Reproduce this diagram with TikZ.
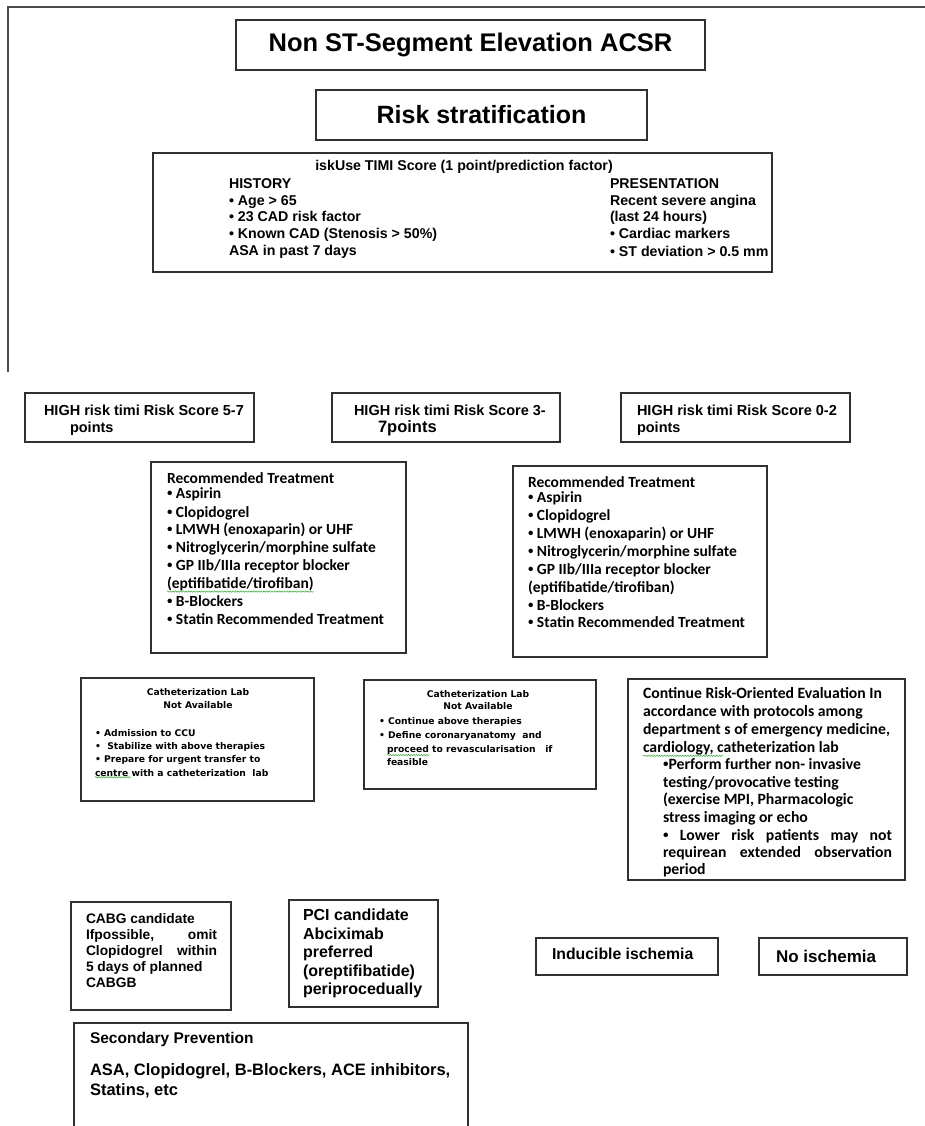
\documentclass[tikz,border=0pt]{standalone}
\usepackage{fontspec}
\setmainfont{Liberation Sans}
\newfontfamily\calfont{Carlito}
\newfontfamily\djfont{DejaVu Sans}
\newfontfamily\bulfont{Liberation Sans}
\newcommand\mybul{{\bulfont\bfseries •}}
\usetikzlibrary{decorations.pathmorphing}
\definecolor{boxc}{HTML}{303030}
\definecolor{framec}{HTML}{4A4A4A}
\definecolor{squigc}{HTML}{3DA83D}
\begin{document}
\begin{tikzpicture}[x=1pt,y=-1pt,
  box/.style={draw=boxc, line width=1.2pt, anchor=north west, inner sep=0pt, outer sep=0pt},
  ln/.style={anchor=mid west, inner sep=0pt, outer sep=0pt, text=black, yshift=-2.5pt},
  lc/.style={anchor=mid, inner sep=0pt, outer sep=0pt, text=black, yshift=-2pt},
  frame/.style={draw=framec, line width=2.2pt},
  squig/.style={draw=squigc, line width=0.5pt, decorate, decoration={snake, amplitude=0.7pt, segment length=2.6pt}},
  fhead/.style={font=\bfseries\fontsize{25.5}{29}\selectfont},
  fhead2/.style={font=\bfseries\fontsize{25}{29}\selectfont},
  ftimi/.style={font=\bfseries\fontsize{14.2}{17}\selectfont},
  fhigh/.style={font=\bfseries\fontsize{14.5}{17}\selectfont},
  fhighb/.style={font=\bfseries\fontsize{16.5}{19}\selectfont},
  ftreat/.style={font=\calfont\bfseries\fontsize{15.5}{18}\selectfont},
  fcath/.style={font=\djfont\bfseries\fontsize{9.2}{11}\selectfont},
  fcont/.style={font=\calfont\bfseries\fontsize{15.7}{18}\selectfont},
  fcabg/.style={font=\bfseries\fontsize{13.8}{16}\selectfont},
  fpci/.style={font=\bfseries\fontsize{16}{19}\selectfont},
  fisch/.style={font=\bfseries\fontsize{15.8}{19}\selectfont},
  fnoisch/.style={font=\bfseries\fontsize{17}{20}\selectfont},
  fsecA/.style={font=\bfseries\fontsize{15.5}{18}\selectfont},
  fsecB/.style={font=\bfseries\fontsize{16.5}{19}\selectfont}]
\useasboundingbox (0,0) rectangle (925,1126);
\clip (0,0) rectangle (925,1126);
\fill[white] (0,0) rectangle (925,1126);

% frame lines
\coordinate (fr-a) at (8,372);
\coordinate (fr-b) at (8,7);
\coordinate (fr-c) at (927,7);
\draw[frame] (fr-a) -- (fr-b) -- (fr-c);

% title boxes
\node[box, fhead, minimum width=469pt, minimum height=50pt] (title) at (236,20) {Non ST-Segment Elevation ACSR};
\node[box, fhead2, minimum width=331pt, minimum height=50pt] (risk) at (316,90) {Risk stratification};

% TIMI box
\node[box, minimum width=619pt, minimum height=119pt] (timi) at (153,153) {};
\node[lc, ftimi] (timi-t) at (464,166) {iskUse TIMI Score (1 point/prediction factor)};
\node[ln, ftimi] (timi-l1) at (229,183) {HISTORY};
\node[ln, ftimi] (timi-l2) at (229,200) {• Age > 65};
\node[ln, ftimi] (timi-l3) at (229,216) {• 23 CAD risk factor};
\node[ln, ftimi] (timi-l4) at (229,233) {• Known CAD (Stenosis > 50\%)};
\node[ln, ftimi] (timi-l5) at (229,250) {ASA in past 7 days};
\node[ln, ftimi] (timi-r1) at (610,183) {PRESENTATION};
\node[ln, ftimi] (timi-r2) at (610,200) {Recent severe angina};
\node[ln, ftimi] (timi-r3) at (610,216) {(last 24 hours)};
\node[ln, ftimi] (timi-r4) at (610,233) {• Cardiac markers};
\node[ln, ftimi] (timi-r5) at (610,251) {• ST deviation > 0.5 mm};

% HIGH risk boxes
\node[box, minimum width=229pt, minimum height=49pt] (hA) at (25,393) {};
\node[ln, fhigh] (hA-1) at (44,410) {HIGH risk timi Risk Score 5-7};
\node[ln, fhigh] (hA-2) at (70,427) {points};
\node[box, minimum width=228pt, minimum height=49pt] (hB) at (332,393) {};
\node[ln, fhigh] (hB-1) at (354,410) {HIGH risk timi Risk Score 3-};
\node[ln, fhighb] (hB-2) at (378,427) {7points};
\node[box, minimum width=229pt, minimum height=49pt] (hC) at (621,393) {};
\node[ln, fhigh] (hC-1) at (637,410) {HIGH risk timi Risk Score 0-2};
\node[ln, fhigh] (hC-2) at (637,427) {points};

% Treatment boxes
\node[box, minimum width=255pt, minimum height=191pt] (t1) at (151,462) {};
\node[ln, ftreat] (t1-1) at (167,478) {Recommended Treatment};
\node[ln, ftreat] (t1-2) at (167,493) {\mybul\ Aspirin};
\node[ln, ftreat] (t1-3) at (167,512) {\mybul\ Clopidogrel};
\node[ln, ftreat] (t1-4) at (167,529) {\mybul\ LMWH (enoxaparin) or UHF};
\node[ln, ftreat] (t1-5) at (167,547) {\mybul\ Nitroglycerin/morphine sulfate};
\node[ln, ftreat] (t1-6) at (167,565) {\mybul\ GP IIb/IIIa receptor blocker};
\node[ln, ftreat] (t1-7) at (167,583) {(eptifibatide/tirofiban)};
\node[ln, ftreat] (t1-8) at (167,601) {\mybul\ B-Blockers};
\node[ln, ftreat] (t1-9) at (167,619) {\mybul\ Statin Recommended Treatment};
\draw[squig] ([yshift=-1pt]t1-7.south west) -- ([yshift=-1pt]t1-7.south east);

\node[box, minimum width=254pt, minimum height=191pt] (t2) at (513,466) {};
\node[ln, ftreat] (t2-1) at (528,482) {Recommended Treatment};
\node[ln, ftreat] (t2-2) at (528,497) {\mybul\ Aspirin};
\node[ln, ftreat] (t2-3) at (528,515) {\mybul\ Clopidogrel};
\node[ln, ftreat] (t2-4) at (528,533) {\mybul\ LMWH (enoxaparin) or UHF};
\node[ln, ftreat] (t2-5) at (528,551) {\mybul\ Nitroglycerin/morphine sulfate};
\node[ln, ftreat] (t2-6) at (528,569) {\mybul\ GP IIb/IIIa receptor blocker};
\node[ln, ftreat] (t2-7) at (528,587) {(eptifibatide/tirofiban)};
\node[ln, ftreat] (t2-8) at (528,605) {\mybul\ B-Blockers};
\node[ln, ftreat] (t2-9) at (528,622) {\mybul\ Statin Recommended Treatment};

% Catheterization lab boxes
\node[box, minimum width=233pt, minimum height=123pt] (c1) at (81,678) {};
\node[lc, fcath] (c1-t1) at (198,691) {Catheterization Lab};
\node[lc, fcath] (c1-t2) at (198,704) {Not Available};
\node[ln, fcath] (c1-1) at (95,731) {• Admission to CCU};
\node[ln, fcath] (c1-2) at (95,744) {•\ \ Stabilize with above therapies};
\node[ln, fcath] (c1-3) at (95,757) {• Prepare for urgent transfer to};
\node[ln, fcath] (c1-4) at (95,771) {centre with a catheterization\ \ lab};
\draw[squig] ([yshift=-1pt]c1-4.south west) -- ++(36,0);

\node[box, minimum width=232pt, minimum height=109pt] (c2) at (364,680) {};
\node[lc, fcath] (c2-t1) at (478,693) {Catheterization Lab};
\node[lc, fcath] (c2-t2) at (478,705) {Not Available};
\node[ln, fcath] (c2-1) at (379,719) {• Continue above therapies};
\node[ln, fcath] (c2-2) at (379,733) {• Define coronaryanatomy\ \ and};
\node[ln, fcath] (c2-3) at (387,747) {proceed to revascularisation\ \ \ if};
\node[ln, fcath] (c2-4) at (387,760) {feasible};
\draw[squig] ([yshift=-1pt]c2-3.south west) -- ++(42,0);

% Continue risk-oriented evaluation box
\node[box, minimum width=277pt, minimum height=201pt] (ev) at (628,679) {};
\node[ln, fcont] (ev-1) at (643,693) {Continue Risk-Oriented Evaluation In};
\node[ln, fcont] (ev-2) at (643,711) {accordance with protocols among};
\node[ln, fcont] (ev-3) at (643,729) {department s of emergency medicine,};
\node[ln, fcont] (ev-4) at (643,747) {cardiology, catheterization lab};
\node[ln, fcont] (ev-5) at (663,764) {\mybul Perform further non- invasive};
\node[ln, fcont] (ev-6) at (663,782) {testing/provocative testing};
\node[ln, fcont] (ev-7) at (663,799) {(exercise MPI, Pharmacologic};
\node[ln, fcont] (ev-8) at (663,817) {stress imaging or echo};
\node[ln, fcont] (ev-9) at (663,835) {\hbox to 229pt{\mybul\hfill Lower\hfill risk\hfill patients\hfill may\hfill not}};
\node[ln, fcont] (ev-10) at (663,852) {\hbox to 229pt{requirean\hfill extended\hfill observation}};
\node[ln, fcont] (ev-11) at (663,869) {period};
\draw[squig] ([yshift=-1pt]ev-4.south west) -- ++(80,0);

% CABG / PCI boxes
\node[box, minimum width=160pt, minimum height=108pt] (cabg) at (71,902) {};
\node[ln, fcabg] (cabg-1) at (86,918) {CABG candidate};
\node[ln, fcabg] (cabg-2) at (86,934) {\hbox to 131pt{Ifpossible,\hfill omit}};
\node[ln, fcabg] (cabg-3) at (86,950) {\hbox to 131pt{Clopidogrel\hfill within}};
\node[ln, fcabg] (cabg-4) at (86,966) {5 days of planned};
\node[ln, fcabg] (cabg-5) at (86,982) {CABGB};

\node[box, minimum width=149pt, minimum height=107pt] (pci) at (289,900) {};
\node[ln, fpci] (pci-1) at (303,915) {PCI candidate};
\node[ln, fpci] (pci-2) at (303,934) {Abciximab};
\node[ln, fpci] (pci-3) at (303,952) {preferred};
\node[ln, fpci] (pci-4) at (303,971) {(oreptifibatide)};
\node[ln, fpci] (pci-5) at (303,989) {periprocedually};

% ischemia boxes
\node[box, minimum width=182pt, minimum height=37pt] (ind) at (536,938) {};
\node[ln, fisch] (ind-t) at (552,954) {Inducible ischemia};
\node[box, minimum width=148pt, minimum height=37pt] (noi) at (759,938) {};
\node[ln, fnoisch] (noi-t) at (776,957) {No ischemia};

% Secondary prevention
\node[box, minimum width=394pt, minimum height=150pt] (sec) at (74,1023) {};
\node[ln, fsecA] (sec-1) at (90,1038) {Secondary Prevention};
\node[ln, fsecB] (sec-2) at (90,1070) {ASA, Clopidogrel, B-Blockers, ACE inhibitors,};
\node[ln, fsecB] (sec-3) at (90,1090) {Statins, etc};
\end{tikzpicture}
\end{document}
